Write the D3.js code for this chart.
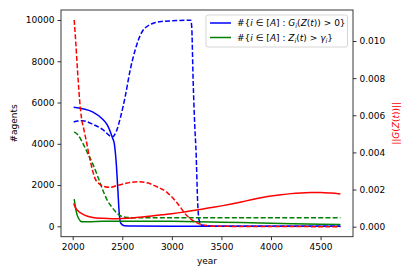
<!DOCTYPE html>
<html><head><meta charset="utf-8">
<script src="https://cdn.jsdelivr.net/npm/d3@7"></script>
<style>body{margin:0;background:#fff}svg{display:block}text{font-family:"DejaVu Sans",sans-serif}</style>
</head><body>
<script>
// ---- data ----
const xTicks = [2000, 2500, 3000, 3500, 4000, 4500];
const yLeftTicks = [0, 2000, 4000, 6000, 8000, 10000];
const yRightTicks = [0, 0.002, 0.004, 0.006, 0.008, 0.010];

const blueSolidYears = [2010,2100,2200,2300,2350,2400,2420,2440,2455,2470,2485,2520,2600,3000,4000,4700];
const blueSolidVals  = [5770,5700,5550,5200,4900,4300,4000,3000,1800,600,150,30,10,5,2,0];

const blueDashYears = [2010,2050,2100,2200,2300,2400,2440,2480,2530,2580,2630,2700,2800,2900,3000,3190,3200,3215,3230,3245,3260,3275,3300,3350,4000,4700];
const blueDashVals  = [5060,5100,5120,4950,4700,4330,4600,5250,6300,7580,8550,9430,9820,9930,9960,9990,9700,7000,5000,3500,1200,300,60,10,2,0];

const greenSolidYears = [2015,2025,2040,2060,2090,2150,2300,2500,3000,3500,4000,4500,4700];
const greenSolidVals  = [1320,1000,630,380,220,215,240,250,240,200,150,100,85];

const greenDashYears = [2015,2050,2100,2150,2200,2250,2300,2350,2400,2450,2500,2550,2600,4700];
const greenDashVals  = [4580,4450,4050,3550,3050,2450,1800,1250,900,620,470,430,420,415];

const redSolidYears = [2010,2030,2060,2100,2150,2200,2300,2400,2500,2600,2700,2800,2900,3000,3100,3200,3300,3400,3500,3600,3700,3800,3900,4000,4100,4200,4300,4400,4500,4600,4700];
const redSolidVals  = [0.00125,0.00100,0.00082,0.00068,0.00056,0.00050,0.00045,0.00043,0.00044,0.00047,0.00052,0.00058,0.00064,0.00070,0.00077,0.00086,0.00094,0.00103,0.00112,0.00122,0.00133,0.00145,0.00156,0.00165,0.00172,0.00178,0.00182,0.00184,0.00184,0.00181,0.00176];

const redDashYears = [2015,2030,2050,2070,2090,2110,2130,2175,2225,2275,2325,2375,2450,2550,2650,2750,2850,2950,3050,3150,3250,3350,3450,4700];
const redDashVals  = [0.01113,0.0100,0.0083,0.0068,0.0058,0.0053,0.0048,0.0036,0.0026,0.00228,0.00215,0.00212,0.00222,0.00235,0.00242,0.00236,0.00215,0.00185,0.00130,0.00060,0.00022,0.00006,0.00002,0];

// ---- layout ----
const W = 415, H = 277;
const L = 61, R = 353, T = 10, B = 236.7;
const svg = d3.select("body").append("svg").attr("width", W).attr("height", H);

const x = d3.scaleLinear().domain([1882, 4827]).range([L, R]);
const yL = d3.scaleLinear().domain([-504, 10485]).range([B, T]);
const yR = d3.scaleLinear().domain([-0.00054, 0.01167]).range([B, T]);

const clip = svg.append("defs").append("clipPath").attr("id","clip")
  .append("rect").attr("x",L).attr("y",T).attr("width",R-L).attr("height",B-T);

const g = svg.append("g").attr("clip-path","url(#clip)");
function drawLine(years, vals, ys, color, dashed){
  const data = years.map((yr,i)=>[yr, vals[i]]);
  const line = d3.line().x(d=>x(d[0])).y(d=>ys(d[1])).curve(d3.curveMonotoneX);
  g.append("path").datum(data).attr("d", line)
    .attr("fill","none").attr("stroke",color).attr("stroke-width",1.5)
    .attr("stroke-dasharray", dashed ? "5,2.2" : null);
}
const BLUE = "#0000ff", GREEN = "#008000", RED = "#ff0000";
drawLine(blueSolidYears, blueSolidVals, yL, BLUE, false);
drawLine(greenSolidYears, greenSolidVals, yL, GREEN, false);
drawLine(blueDashYears, blueDashVals, yL, BLUE, true);
drawLine(greenDashYears, greenDashVals, yL, GREEN, true);
drawLine(redSolidYears, redSolidVals, yR, RED, false);
drawLine(redDashYears, redDashVals, yR, RED, true);

// ---- axes ----
const fs = 9;
const ax = svg.append("g").attr("transform",`translate(0,${B})`)
  .call(d3.axisBottom(x).tickValues(xTicks).tickFormat(d3.format("d")).tickSizeOuter(0).tickSize(3.5).tickPadding(3));
const ayl = svg.append("g").attr("transform",`translate(${L},0)`)
  .call(d3.axisLeft(yL).tickValues(yLeftTicks).tickFormat(d3.format("d")).tickSizeOuter(0).tickSize(3.5).tickPadding(3));
const ayr = svg.append("g").attr("transform",`translate(${R},0)`)
  .call(d3.axisRight(yR).tickValues(yRightTicks).tickFormat(d3.format(".3f")).tickSizeOuter(0).tickSize(3.5).tickPadding(3));
[ax, ayl, ayr].forEach(a=>{
  a.select(".domain").remove();
  a.selectAll("text").attr("font-size", fs).attr("font-family","DejaVu Sans").attr("fill","#000");
  a.selectAll("line").attr("stroke","#000").attr("stroke-width",0.8);
});
// spines
svg.append("rect").attr("x",L).attr("y",T).attr("width",R-L).attr("height",B-T)
  .attr("fill","none").attr("stroke","#222").attr("stroke-width",0.9);

// labels
svg.append("text").attr("x",(L+R)/2).attr("y",264).attr("text-anchor","middle").attr("font-size",fs).text("year");
svg.append("text").attr("transform",`translate(17,${(T+B)/2}) rotate(-90)`).attr("text-anchor","middle").attr("font-size",fs).text("#agents");
svg.append("text").attr("transform",`translate(399,${(T+B)/2}) rotate(-90)`).attr("text-anchor","middle").attr("font-size",fs).attr("fill",RED)
  .call(t=>{
    t.append("tspan").text("||");
    t.append("tspan").attr("font-style","italic").text("G");
    t.append("tspan").text("(");
    t.append("tspan").attr("font-style","italic").text("Z");
    t.append("tspan").text("(");
    t.append("tspan").attr("font-style","italic").text("t");
    t.append("tspan").text("))||");
  });

// legend
const lg = svg.append("g");
lg.append("rect").attr("x",206).attr("y",15).attr("width",141.5).attr("height",32).attr("rx",2)
  .attr("fill","#fff").attr("fill-opacity",0.8).attr("stroke","#ccc").attr("stroke-width",0.8);
const legendItems = [
  {color: BLUE, parts: [["#{",""],["i","i"],[" ∈ [",""],["A","i"],["] : ",""],["G","i"],["i","sub"],["(",""],["Z","i"],["(",""],["t","i"],[")) > 0}",""]]},
  {color: GREEN, parts: [["#{",""],["i","i"],[" ∈ [",""],["A","i"],["] : ",""],["Z","i"],["i","sub"],["(",""],["t","i"],[") > ",""],["γ","i"],["i","sub"],["}",""]]}
];
legendItems.forEach((it,k)=>{
  const yy = 23 + k*14.5;
  lg.append("line").attr("x1",210).attr("x2",231).attr("y1",yy).attr("y2",yy).attr("stroke",it.color).attr("stroke-width",1.5);
  const t = lg.append("text").attr("x",237).attr("y",yy+3.2).attr("font-size",fs);
  it.parts.forEach(p=>{
    const s = t.append("tspan").text(p[0]);
    if(p[1]==="i") s.attr("font-style","italic");
    if(p[1]==="sub"){ s.attr("font-style","italic").attr("font-size",6.5).attr("dy",2); }
    else if(p[1]!=="sub"){ }
  });
  // reset baseline after subscripts
  t.selectAll("tspan").each(function(d,i,nodes){
    const prev = i>0 ? d3.select(nodes[i-1]) : null;
    if(prev && prev.attr("dy")==="2" && d3.select(this).attr("dy")!=="2") d3.select(this).attr("dy",-2);
  });
});
</script>
</body></html>
